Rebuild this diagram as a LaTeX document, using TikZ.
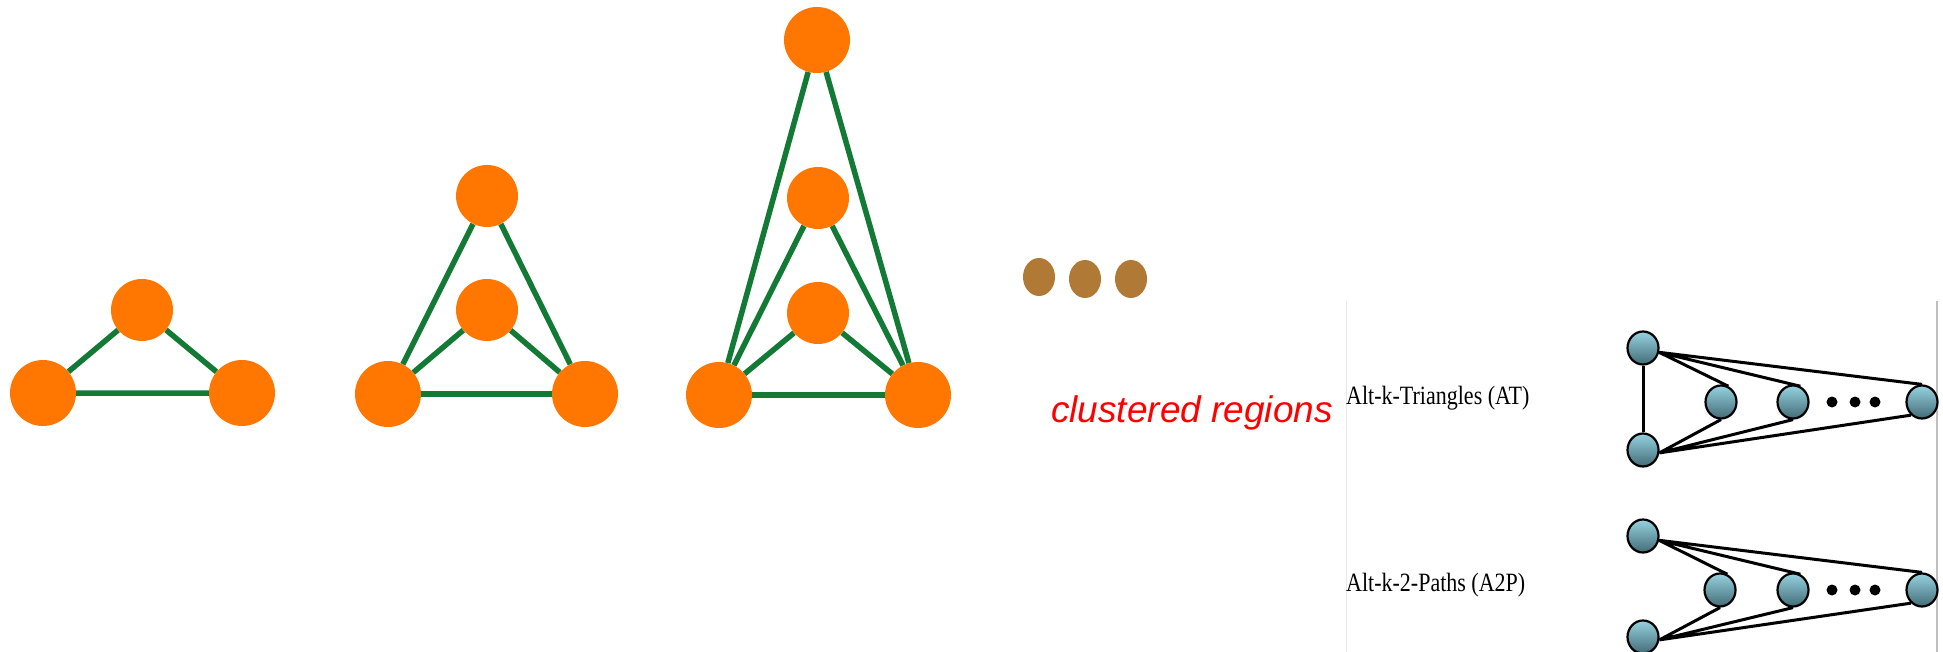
\documentclass[tikz,border=0pt]{standalone}
\usepackage{fontspec}
\setmainfont{Liberation Serif}
\newfontfamily\labelsans{Liberation Sans}
\usepackage{tikz}
\usetikzlibrary{shapes.geometric,positioning}
\pgfdeclarelayer{background}
\pgfsetlayers{background,main}
\definecolor{blobcolor}{RGB}{255,119,0}
\definecolor{linkgreen}{RGB}{18,122,52}
\definecolor{dotbrown}{RGB}{176,122,54}
\definecolor{balltop}{RGB}{150,210,224}
\definecolor{ballbottom}{RGB}{66,108,118}
\tikzset{
    blob/.style={
        circle,
        fill=blobcolor,
        inner sep=0pt,
        minimum size=62
    },
    bigblob/.style={blob, minimum size=66},
    link/.style={draw=linkgreen, line width=5.5},
    etc/.style={
        ellipse,
        fill=dotbrown,
        inner sep=0pt,
        minimum width=32, minimum height=38
    },
    ball/.style={
        ellipse,
        top color=balltop,
        bottom color=ballbottom,
        draw=black, line width=2.2,
        inner sep=0pt,
        minimum width=31, minimum height=33
    },
    tie/.style={draw=black, line width=3},
    pip/.style={circle, fill=black, inner sep=0pt, minimum size=11},
    modelname/.style={
        anchor=west, inner sep=0pt,
        font={\fontsize{22pt}{26pt}\selectfont}
    },
}

\begin{document}
\begin{tikzpicture}[x=1pt,y=-1pt]
\useasboundingbox (0,0) rectangle (1943,652);
% growing triangles
\node[blob]    (a1) at (142,310) {};
\node[bigblob] (a2) at (43,393)  {};
\node[bigblob] (a3) at (242,393) {};
\node[blob]    (b1) at (487,196) {};
\node[blob]    (b2) at (487,310) {};
\node[bigblob] (b3) at (388,394) {};
\node[bigblob] (b4) at (585,394) {};
\node[bigblob] (c1) at (817,40)  {};
\node[blob]    (c2) at (818,198) {};
\node[blob]    (c3) at (818,313) {};
\node[bigblob] (c4) at (719,395) {};
\node[bigblob] (c5) at (918,395) {};
\begin{pgfonlayer}{background}
\draw[link] (a2) -- (a3) (a2) -- (a1) (a3) -- (a1);
\draw[link] (b3) -- (b4);
\foreach \t in {b1,b2}
    \draw[link] (b3) -- (\t) (b4) -- (\t);
\draw[link] (c4) -- (c5);
\foreach \t in {c1,c2,c3}
    \draw[link] (c4) -- (\t) (c5) -- (\t);
\end{pgfonlayer}

\node[etc] (e1) at (1039,277) {};
\node[etc] (e2) at (1085,279) {};
\node[etc] (e3) at (1131,279) {};
\node[text=red, inner sep=0pt, font={\labelsans\itshape\fontsize{37pt}{40pt}\selectfont}]
    (clust) at (1192,413) {clustered regions};

% panel with the two statistics
\coordinate (pl) at (1346,301);
\coordinate (pr) at (1937,301);
\draw[black!9, line width=1] (pl) -- (pl |- 0,652);
\draw[black!25, line width=2] (pr) -- (pr |- 0,652);

\node[modelname] (at)  at (1346,398) {\scalebox{1}[1.2]{Alt-k-Triangles (AT)}};
\node[modelname] (a2p) at (1346,585) {\scalebox{1}[1.2]{Alt-k-2-Paths (A2P)}};

\node[ball] (t1) at (1643,348) {};
\node[ball] (t2) at (1643,450) {};
\node[ball] (t3) at (1721,402) {};
\node[ball] (t4) at (1793,402) {};
\node[ball] (t5) at (1922,402) {};
\node[pip] at (1832,402) {};
\node[pip] at (1855,402) {};
\node[pip] at (1875,402) {};
\begin{pgfonlayer}{background}
\draw[tie] (t1) -- (t2);
\draw[tie] (t1.-15) -- (t3.65) (t1.-15) -- (t4.65) (t1.-15) -- (t5.north);
\draw[tie] (t2.-10) -- (t3.south) (t2.-10) -- (t4.south) (t2.-10) -- (t5.-130);
\end{pgfonlayer}

\node[ball] (p1) at (1643,536) {};
\node[ball] (p2) at (1643,637) {};
\node[ball] (p3) at (1720,590) {};
\node[ball] (p4) at (1793,590) {};
\node[ball] (p5) at (1922,590) {};
\node[pip] at (1832,590) {};
\node[pip] at (1855,590) {};
\node[pip] at (1875,590) {};
\begin{pgfonlayer}{background}
\draw[tie] (p1.-15) -- (p3.65) (p1.-15) -- (p4.65) (p1.-15) -- (p5.north);
\draw[tie] (p2.-10) -- (p3.south) (p2.-10) -- (p4.south) (p2.-10) -- (p5.-130);
\end{pgfonlayer}
\end{tikzpicture}
\end{document}
